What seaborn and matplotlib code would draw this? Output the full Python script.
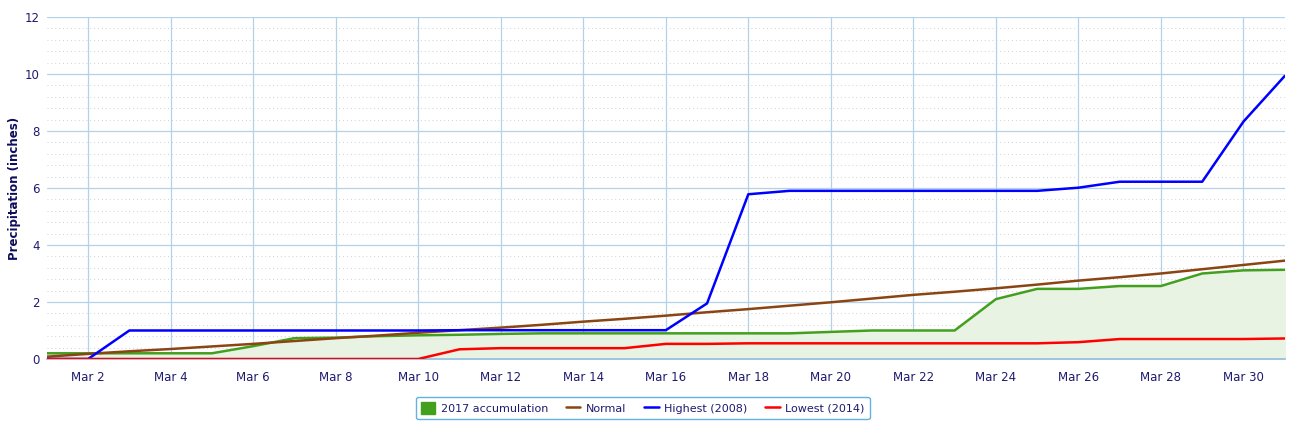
import numpy as np
import pandas as pd
import matplotlib
matplotlib.use('Agg')
import matplotlib.pyplot as plt
from matplotlib.patches import Patch
from matplotlib.lines import Line2D
import seaborn as sns

# Daily cumulative precipitation, March (inches)
days = list(range(1, 32))
acc_2017 = [0.20, 0.20, 0.20, 0.20, 0.20, 0.45, 0.73, 0.75, 0.80, 0.83,
            0.85, 0.88, 0.90, 0.90, 0.90, 0.90, 0.90, 0.90, 0.90, 0.95,
            1.00, 1.00, 1.00, 2.10, 2.46, 2.46, 2.56, 2.56, 3.00, 3.11, 3.13]
normal = [0.08, 0.18, 0.27, 0.35, 0.44, 0.53, 0.63, 0.73, 0.82, 0.92,
          1.01, 1.10, 1.20, 1.31, 1.41, 1.52, 1.64, 1.75, 1.87, 1.99,
          2.12, 2.25, 2.36, 2.48, 2.61, 2.75, 2.87, 3.00, 3.15, 3.30, 3.45]
highest_2008 = [0.00, 0.00, 1.00, 1.00, 1.00, 1.00, 1.00, 1.00, 1.00, 1.00,
                1.01, 1.01, 1.01, 1.01, 1.01, 1.01, 1.95, 5.78, 5.90, 5.90,
                5.90, 5.90, 5.90, 5.90, 5.90, 6.01, 6.22, 6.22, 6.22, 8.33, 9.93]
lowest_2014 = [0.00, 0.00, 0.00, 0.00, 0.00, 0.00, 0.00, 0.00, 0.00, 0.00,
               0.34, 0.38, 0.38, 0.38, 0.38, 0.53, 0.53, 0.55, 0.55, 0.55,
               0.55, 0.55, 0.55, 0.55, 0.55, 0.59, 0.70, 0.70, 0.70, 0.70, 0.72]
tick_days = list(range(2, 31, 2))
tick_labels = ['Mar %d' % d for d in tick_days]

df = pd.DataFrame({'day': days, '2017': acc_2017, 'normal': normal,
                   'high': highest_2008, 'low': lowest_2014})

sns.set_style('white')
plt.rcParams['font.family'] = ['DejaVu Sans']

fig = plt.figure(figsize=(13.01, 4.29), dpi=100)
ax = fig.add_axes([0.036, 0.1632, 0.9515, 0.7972])

green = '#43a01f'
brown = '#8b4513'
blue = '#0000ff'
red = '#ff0000'
grid_c = '#b3d1e8'
txt_c = '#1f1a6e'

ax.fill_between(df['day'], 0, df['2017'], color='#e9f3e3', zorder=1)
sns.lineplot(data=df, x='day', y='2017', color=green, lw=1.8, ax=ax, zorder=3)
sns.lineplot(data=df, x='day', y='normal', color=brown, lw=1.8, ax=ax, zorder=3)
sns.lineplot(data=df, x='day', y='high', color=blue, lw=1.8, ax=ax, zorder=4)
sns.lineplot(data=df, x='day', y='low', color=red, lw=1.8, ax=ax, zorder=5)

ax.set_xlim(1, 31)
ax.set_ylim(0, 12)
ax.set_xticks(tick_days)
ax.set_xticklabels(tick_labels)
ax.set_yticks(range(0, 13, 2))
minor = [v for v in np.arange(0.4, 12, 0.4) if abs(v / 2 - round(v / 2)) > 0.01]
ax.set_yticks(minor, minor=True)
ax.grid(True, which='major', color=grid_c, lw=0.9, zorder=0)
ax.grid(True, which='minor', axis='y', color='#cfcfcf', lw=0.7, ls=(0, (1, 3)), zorder=0)
ax.set_axisbelow(True)

for s in ['top', 'right', 'left']:
    ax.spines[s].set_visible(False)
ax.spines['bottom'].set_color('#8fbde0')
ax.spines['bottom'].set_linewidth(1.2)

ax.tick_params(axis='x', which='major', length=6, color=grid_c, labelsize=8.5,
               labelcolor=txt_c, pad=3)
ax.tick_params(axis='y', which='both', length=0, labelsize=8.5, labelcolor=txt_c, pad=5)
ax.set_xlabel('')
ax.set_ylabel('Precipitation (inches)', fontsize=8.5, fontweight='bold', color='#0d0d5c')
ax.yaxis.set_label_coords(-0.021, 0.5)

handles = [Patch(facecolor=green, edgecolor=green, label='2017 accumulation'),
           Line2D([], [], color=brown, lw=1.8, label='Normal'),
           Line2D([], [], color=blue, lw=1.8, label='Highest (2008)'),
           Line2D([], [], color=red, lw=1.8, label='Lowest (2014)')]
leg = fig.legend(handles=handles, loc='center', bbox_to_anchor=(0.494, 0.049), ncol=4,
                 frameon=True, fontsize=8, handlelength=1.3, handleheight=1.3,
                 columnspacing=1.6, handletextpad=0.5, borderpad=0.45, fancybox=True)
leg.get_frame().set_edgecolor('#3d9fd8')
leg.get_frame().set_linewidth(1.0)
for t in leg.get_texts():
    t.set_color(txt_c)

fig.savefig('out.png', dpi=100)
